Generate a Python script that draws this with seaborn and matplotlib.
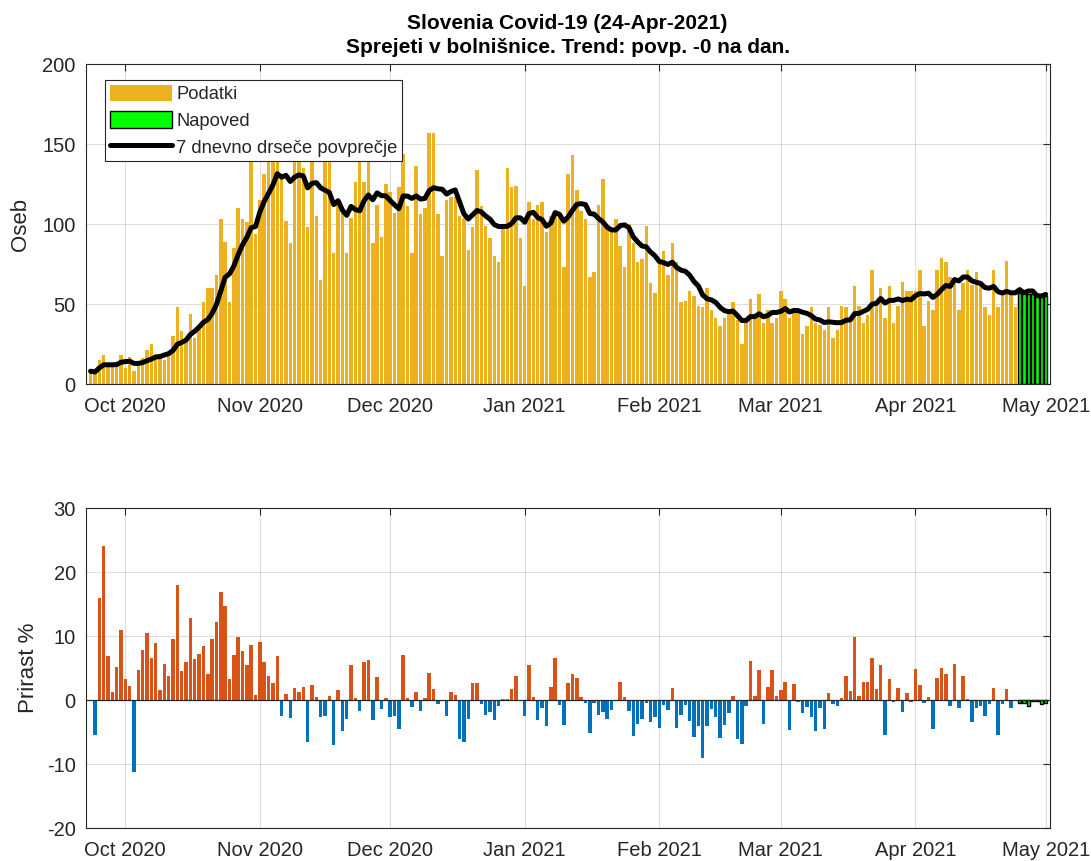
import numpy as np
import pandas as pd
import matplotlib
matplotlib.use("Agg")
import matplotlib.pyplot as plt
import seaborn as sns
from matplotlib.patches import Patch
from matplotlib.lines import Line2D

# ---------------- data ----------------
start_date = "2020-09-23"
# daily hospital admissions, 23-Sep-2020 .. 24-Apr-2021
hosp_sep = [8, 7, 15, 18, 12, 12, 13, 18]
hosp_oct = [10, 17, 8, 12, 16, 21, 25, 19, 19, 15, 18, 30, 48, 33, 29, 44, 29, 36, 51, 60,
            60, 68, 103, 89, 51, 85, 110, 103, 101, 145, 94]
hosp_nov = [115, 131, 145, 140, 150, 130, 102, 88, 150, 155, 135, 98, 150, 105, 65, 140, 145, 82,
            115, 109, 82, 104, 126, 140, 126, 140, 88, 112, 92, 125]
hosp_dec = [120, 107, 123, 144, 111, 82, 136, 106, 110, 157, 157, 106, 80, 115, 117, 117, 105, 104,
            84, 98, 134, 111, 99, 91, 80, 76, 98, 135, 123, 124, 91]
hosp_jan = [61, 114, 103, 112, 114, 95, 105, 107, 106, 73, 131, 143, 121, 108, 103, 67, 70, 112,
            128, 98, 96, 103, 86, 73, 100, 88, 76, 78, 99, 63, 57]
hosp_feb = [75, 83, 68, 88, 76, 51, 52, 58, 55, 49, 48, 60, 46, 41, 36, 41, 44, 51, 40, 25,
            41, 53, 41, 56, 38, 46, 38, 41]
hosp_mar = [58, 53, 41, 45, 45, 31, 36, 48, 38, 37, 34, 48, 29, 34, 49, 48, 39, 61, 49, 38,
            43, 71, 52, 60, 41, 61, 38, 49, 64, 58, 58]
hosp_apr = [58, 71, 36, 52, 46, 71, 79, 76, 67, 66, 46, 63, 71, 62, 70, 62, 48, 43, 71, 48,
            56, 77, 56, 48]
forecast = [57, 57, 56, 56, 56, 55, 55]          # 25-Apr .. 1-May

# growth % of the 7-day average, 24-Sep-2020 .. 24-Apr-2021
gr_sep = [-5.5, 16, 24, 6.9, 1.25, 5.2, 11]
gr_oct = [3.3, 2.2, -11.3, 4.7, 7.8, 10.5, 6.6, 8.9, 1.6, 5.6, 3.8, 9.6, 18, 4.5, 6, 12.8,
          6.4, 7.2, 8.4, 4.1, 9.6, 12.2, 16.9, 14.7, 3.3, 7.1, 9.8, 7.7, 5.4, 8.6, 0.8]
gr_nov = [9.1, 6, 3.8, 2.6, 6.9, -2.5, 1, -2.8, 1.9, 1.25, 2, -6.6, 2.3, 0.4, -2.6, -2.5,
          0.6, -7, 1.6, -4.9, -2.9, 5.4, 0.3, -1.7, 6, 6.3, -3.1, 3.6, -1.4, 0.3]
gr_dec = [-2.6, -2.5, -4.5, 7, 0.3, -1.15, 1.25, -1.7, 0.3, 4.2, 1.7, -0.6, -0.2, -2.5, 1.25,
          0.8, -6.1, -6.6, -2.9, 2.6, 2.6, -0.7, -2.3, -1.8, -3.2, -1, 0.2, 0.2, 1.7, 3.7, 0]
gr_jan = [-2.5, 5.4, 0.5, -3.1, -1.2, -4, 2, 6.6, -0.8, -3.9, 2.7, 4, 3.4, 0.4, -0.5, -5.1,
          -0.4, -2.4, -1.9, -2.9, -1.5, 0, 2.8, 0.5, -1.7, -5.7, -3.7, -3, -0.5, -3.5, -2.7]
gr_feb = [-4.3, -0.8, -1.5, 1.9, -4.3, -2.4, -0.8, -3.3, -5.8, -4, -9, -4, -1.4, -2.6, -6,
          -3.9, -2.1, 0.6, -6.1, -6.9, -1, 6.1, 0.6, 4.7, -3.8, 2, 4.7, 0.6]
gr_mar = [1.6, 2.8, -4.7, 2.5, -0.3, -2.1, -1.15, -2.7, -4.9, -1.3, -4.5, 1.1, -0.7, -1, 0.3,
          3.8, 1.4, 9.9, 0.6, 2.8, 2.8, 6.6, 1.7, 5.4, -5.4, 3.3, -0.3, 1.9, -1.8, 1.1, -0.3]
gr_apr = [4.9, 2.3, -0.4, 0.5, -4.6, 3.4, 5, 4.1, -0.9, 5.6, -1.3, 3.8, 0.15, -3.5, -1.3, -1,
          -2.5, -0.7, 1.9, -5.5, -0.7, 1.7, -1.3, 0]
gr_forecast = [-0.5, -0.5, -1.0, -0.2, -0.2, -0.6, -0.4]

title_1 = "Slovenia Covid-19 (24-Apr-2021)"
title_2 = "Sprejeti v bolnišnice. Trend: povp. -0 na dan."
legend_labels = ["Podatki", "Napoved", "7 dnevno drseče povprečje"]
ylabel_top = "Oseb"
ylabel_bot = "Prirast %"

# ---------------- build frames ----------------
hosp = hosp_sep + hosp_oct + hosp_nov + hosp_dec + hosp_jan + hosp_feb + hosp_mar + hosp_apr
growth = gr_sep + gr_oct + gr_nov + gr_dec + gr_jan + gr_feb + gr_mar + gr_apr

d_data = pd.date_range(start_date, periods=len(hosp), freq="D")
d_fc = pd.date_range(d_data[-1] + pd.Timedelta(days=1), periods=len(forecast), freq="D")
d_all = d_data.append(d_fc)
series_all = pd.Series(hosp + forecast, index=d_all)
avg7 = series_all.rolling(7, min_periods=1).mean()
df_avg = pd.DataFrame({"date": d_all, "avg": avg7.values})

d_gr = pd.date_range(d_data[1], periods=len(growth), freq="D")

# ---------------- style ----------------
sns.set_style("white")
plt.rcParams["font.family"] = ["Liberation Sans", "DejaVu Sans"]
plt.rcParams["axes.unicode_minus"] = False
AX = "#262626"
C_DATA = "#EDB120"
C_FC = "#00FF00"
C_POS = "#D95319"
C_NEG = "#0072BD"

fig = plt.figure(figsize=(10.91, 8.61), dpi=100)
W, H = 1091, 861
ax1 = fig.add_axes([85.5 / W, 1 - 384 / H, 964 / W, 320 / H])
ax2 = fig.add_axes([85.5 / W, 1 - 828 / H, 964 / W, 320 / H])

xmin = pd.Timestamp("2020-09-21 20:00")
xmax = pd.Timestamp("2021-05-01 21:00")
month_ticks = pd.date_range("2020-10-01", "2021-05-01", freq="MS")
month_labels = [d.strftime("%b %Y") for d in month_ticks]
day_ticks = pd.date_range("2020-09-22", "2021-05-01", freq="D")

def style_axes(ax):
    ax.set_xlim(xmin, xmax)
    ax.set_xticks(month_ticks)
    ax.set_xticklabels(month_labels)
    ax.set_xticks(day_ticks, minor=True)
    ax.grid(True, which="major", color=AX, alpha=0.15, linewidth=0.8)
    ax.set_axisbelow(True)
    for s in ax.spines.values():
        s.set_color(AX)
        s.set_linewidth(0.8)
    ax.tick_params(axis="both", which="major", direction="in", length=5, width=0.8,
                   color=AX, labelcolor=AX, labelsize=14.5, top=True, right=True)
    ax.tick_params(axis="x", which="minor", direction="in", length=2, width=0.5,
                   color="#9a9a9a", top=False)
    ax.tick_params(axis="x", which="major", pad=9)
    ax.tick_params(axis="y", which="major", pad=7)

# ---------------- top panel ----------------
ax1.bar(d_data, hosp, width=0.8, color=C_DATA, linewidth=0)
ax1.bar(d_fc, forecast, width=0.8, color=C_FC, edgecolor="black", linewidth=1.0)
sns.lineplot(data=df_avg, x="date", y="avg", ax=ax1, color="black", linewidth=3.6)
ax1.set_ylim(0, 200)
ax1.set_yticks([0, 50, 100, 150, 200])
style_axes(ax1)
ax1.set_xlabel("")
ax1.set_ylabel(ylabel_top, fontsize=16, color=AX, labelpad=8)
ax1.set_title(title_1 + "\n" + title_2, fontsize=15, fontweight="bold",
              color="black", pad=8, linespacing=1.35)

handles = [Patch(facecolor=C_DATA, edgecolor="none"),
           Patch(facecolor=C_FC, edgecolor="black", linewidth=1.0),
           Line2D([0], [0], color="black", linewidth=3.6)]
leg = ax1.legend(handles, legend_labels, loc="upper left", bbox_to_anchor=(0.0202, 0.95),
                 fontsize=13.2, frameon=True, fancybox=False, framealpha=1,
                 edgecolor=AX, borderpad=0.25, labelspacing=0.45, handlelength=3.4,
                 handleheight=1.0, handletextpad=0.25, borderaxespad=0)
leg.get_frame().set_linewidth(0.8)
for t in leg.get_texts():
    t.set_color(AX)

# ---------------- bottom panel ----------------
cols = [C_POS if v > 0 else C_NEG for v in growth]
ax2.bar(d_gr, growth, width=0.8, color=cols, linewidth=0)
ax2.bar(d_fc, gr_forecast, width=0.8, color=C_FC, edgecolor="black", linewidth=1.0)
ax2.axhline(0, color=AX, linewidth=0.9, zorder=3)
ax2.set_ylim(-20, 30)
ax2.set_yticks([-20, -10, 0, 10, 20, 30])
style_axes(ax2)
ax2.set_ylabel(ylabel_bot, fontsize=16, color=AX, labelpad=6)

fig.savefig("out.png", dpi=100)
